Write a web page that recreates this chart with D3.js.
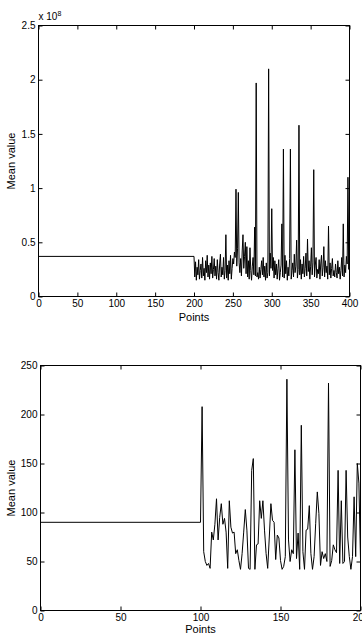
<!DOCTYPE html>
<html>
<head>
<meta charset="utf-8">
<script src="https://cdn.jsdelivr.net/npm/d3@7/dist/d3.min.js"></script>
<style>
  html, body { margin: 0; padding: 0; background: #fff; }
  svg { display: block; }
  text { font-family: "Liberation Sans", Arial, Helvetica, sans-serif; fill: #000; }
</style>
</head>
<body>
<svg id="chart" width="362" height="638"></svg>
<script>
// ---------- Top panel data (values in units of 1e8) ----------
const topXTicks = [0, 50, 100, 150, 200, 250, 300, 350, 400];
const topYTicks = [0, 0.5, 1, 1.5, 2, 2.5];
const topFlatX = [0, 200];
const topFlatY = [0.37, 0.37];
const topNoiseStart = 201;
const topNoise = [
  0.18, 0.32, 0.15, 0.27, 0.20, 0.34, 0.16, 0.24, 0.30, 0.17,
  0.36, 0.19, 0.26, 0.15, 0.33, 0.22, 0.38, 0.18, 0.29, 0.16,
  0.31, 0.21, 0.37, 0.17, 0.25, 0.35, 0.19, 0.28, 0.16, 0.34,
  0.22, 0.15, 0.30, 0.39, 0.18, 0.27, 0.20, 0.36, 0.16, 0.24,
  0.57, 0.17, 0.29, 0.15, 0.33, 0.21, 0.38, 0.16, 0.26, 0.35,
  0.30, 0.41, 0.36, 0.99, 0.28, 0.44, 0.96, 0.31, 0.22, 0.35,
  0.19, 0.42, 0.57, 0.26, 0.37, 0.50, 0.21, 0.46, 0.18, 0.33,
  0.16, 0.45, 0.24, 0.15, 0.28, 0.36, 0.20, 0.64, 0.19, 1.97,
  0.18, 0.22, 0.16, 0.27, 0.17, 0.25, 0.33, 0.20, 0.36, 0.18,
  0.28, 0.15, 0.31, 0.17, 0.22, 2.10, 0.19, 0.40, 0.26, 0.81,
  0.24, 0.36, 0.17, 0.33, 0.20, 0.30, 0.16, 0.26, 0.34, 0.15,
  0.22, 0.29, 0.67, 0.18, 1.36, 0.17, 0.38, 0.21, 0.33, 0.15,
  0.27, 0.19, 0.35, 1.36, 0.16, 0.24, 0.31, 0.18, 0.39, 0.22,
  0.28, 0.52, 0.17, 0.25, 1.58, 0.20, 0.34, 0.16, 0.30, 0.21,
  0.37, 0.18, 0.26, 0.40, 0.19, 0.53, 0.23, 0.33, 0.16, 0.28,
  0.45, 0.20, 0.31, 1.17, 0.18, 0.29, 0.36, 0.17, 0.25, 0.21,
  0.34, 0.16, 0.30, 0.38, 0.19, 0.27, 0.46, 0.18, 0.33, 0.22,
  0.28, 0.16, 0.65, 0.20, 0.31, 0.17, 0.26, 0.35, 0.19, 0.24,
  0.18, 0.30, 0.22, 0.17, 0.33, 0.21, 0.27, 0.16, 0.24, 0.36,
  0.19, 0.67, 0.18, 0.29, 0.22, 0.37, 0.30, 1.10, 0.25, 1.08
];

// ---------- Bottom panel data ----------
const botXTicks = [0, 50, 100, 150, 200];
const botYTicks = [0, 50, 100, 150, 200, 250];
const botFlatX = [0, 100];
const botFlatY = [90, 90];
const botNoiseStart = 101;
const botNoise = [
  208, 60, 50, 46, 48, 43, 80, 72, 88, 114,
  72, 95, 109, 88, 94, 80, 43, 112, 85, 79,
  80, 58, 62, 51, 42, 58, 80, 103, 82, 43,
  42, 143, 155, 42, 67, 68, 112, 94, 112, 82,
  58, 43, 75, 109, 92, 90, 52, 77, 74, 51,
  42, 45, 55, 236, 72, 50, 62, 58, 164, 53,
  79, 42, 189, 60, 42, 82, 83, 107, 58, 42,
  55, 89, 121, 99, 46, 60, 53, 58, 50, 232,
  45, 51, 67, 62, 59, 143, 48, 112, 48, 50,
  143, 75, 55, 42, 55, 116, 55, 150, 130, 52
];

const svg = d3.select("#chart");

function buildSeries(flatX, flatY, start, noise) {
  const pts = flatX.map((x, i) => [x, flatY[i]]);
  noise.forEach((v, i) => pts.push([start + i, v]));
  return pts;
}

function panel(opts) {
  const { left, right, top, bottom, xDomain, yDomain, xTicks, yTicks, data, xLabelY, yLabelX, multiplier } = opts;
  const x = d3.scaleLinear().domain(xDomain).range([left, right]);
  const y = d3.scaleLinear().domain(yDomain).range([bottom, top]);
  const g = svg.append("g");

  // data line
  g.append("path")
    .datum(data)
    .attr("fill", "none")
    .attr("stroke", "#000")
    .attr("stroke-width", 1)
    .attr("d", d3.line().x(d => x(d[0])).y(d => y(d[1])));

  const fmt = d => String(d);
  const styleAxis = sel => {
    sel.select(".domain").remove();
    sel.selectAll("line").attr("stroke", "#000");
    sel.selectAll("text").attr("font-size", 10).style("font-family", '"Liberation Sans", Arial, sans-serif');
  };

  g.append("g").attr("transform", `translate(0,${bottom})`)
    .call(d3.axisBottom(x).tickValues(xTicks).tickFormat(fmt).tickSizeInner(-4).tickSizeOuter(0).tickPadding(3))
    .call(styleAxis);
  g.append("g").attr("transform", `translate(0,${top})`)
    .call(d3.axisTop(x).tickValues(xTicks).tickFormat("").tickSizeInner(-4).tickSizeOuter(0))
    .call(styleAxis);
  g.append("g").attr("transform", `translate(${left},0)`)
    .call(d3.axisLeft(y).tickValues(yTicks).tickFormat(fmt).tickSizeInner(-4).tickSizeOuter(0).tickPadding(3))
    .call(styleAxis);
  g.append("g").attr("transform", `translate(${right},0)`)
    .call(d3.axisRight(y).tickValues(yTicks).tickFormat("").tickSizeInner(-4).tickSizeOuter(0))
    .call(styleAxis);

  // box
  g.append("rect")
    .attr("x", left).attr("y", top)
    .attr("width", right - left).attr("height", bottom - top)
    .attr("fill", "none").attr("stroke", "#000").attr("stroke-width", 1);

  // axis labels
  g.append("text")
    .attr("x", (left + right) / 2).attr("y", xLabelY)
    .attr("text-anchor", "middle").attr("font-size", 11)
    .text("Points");
  g.append("text")
    .attr("transform", `translate(${yLabelX},${(top + bottom) / 2}) rotate(-90)`)
    .attr("text-anchor", "middle").attr("font-size", 11)
    .text("Mean value");

  if (multiplier) {
    const t = g.append("text").attr("x", left).attr("y", top - 6).attr("font-size", 10);
    t.append("tspan").text("x 10");
    t.append("tspan").attr("dy", -4).attr("font-size", 7).text(multiplier);
  }
}

panel({
  left: 38.5, right: 349.5, top: 25.5, bottom: 296.5,
  xDomain: [0, 400], yDomain: [0, 2.5],
  xTicks: topXTicks, yTicks: topYTicks,
  data: buildSeries(topFlatX, topFlatY, topNoiseStart, topNoise),
  xLabelY: 321, yLabelX: 15, multiplier: "8"
});

panel({
  left: 40.5, right: 360.5, top: 365.5, bottom: 610.5,
  xDomain: [0, 200], yDomain: [0, 250],
  xTicks: botXTicks, yTicks: botYTicks,
  data: buildSeries(botFlatX, botFlatY, botNoiseStart, botNoise),
  xLabelY: 633, yLabelX: 15, multiplier: null
});
</script>
</body>
</html>
